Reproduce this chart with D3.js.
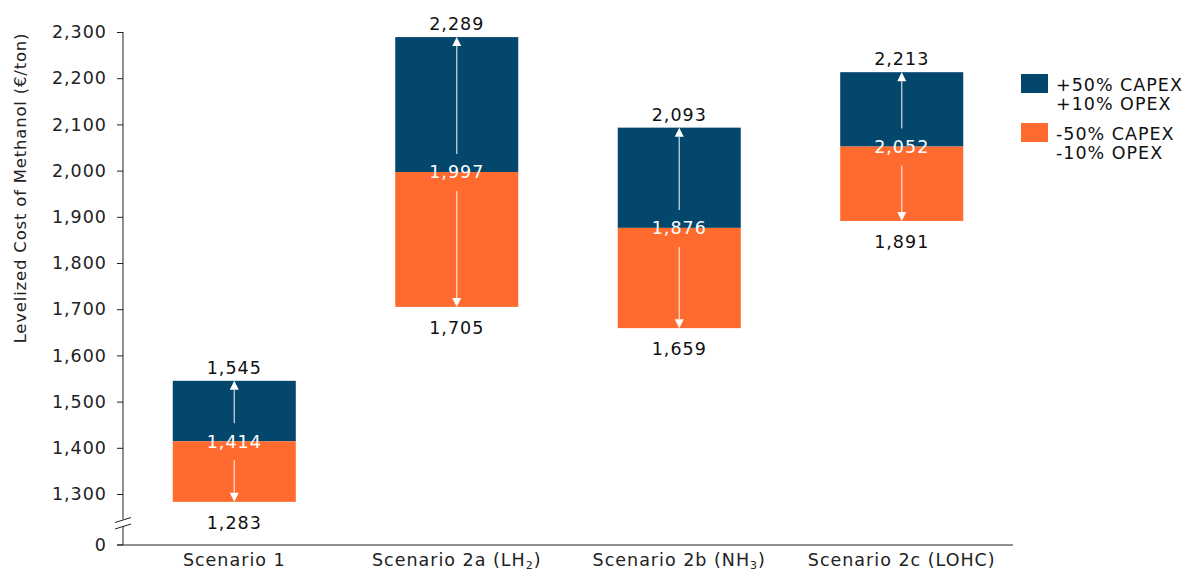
<!DOCTYPE html>
<html><head><meta charset="utf-8">
<script src="https://cdn.jsdelivr.net/npm/d3@7"></script>
<style>
body{margin:0;background:#fff;}
text{font-family:"DejaVu Sans",Verdana,sans-serif;}
</style></head>
<body><svg id="c" width="1192" height="572"></svg>
<script>
const scenarios = ["Scenario 1","Scenario 2a (LH2)","Scenario 2b (NH3)","Scenario 2c (LOHC)"];
const labelParts = [["Scenario 1",""],["Scenario 2a (LH","2",")"],["Scenario 2b (NH","3",")"],["Scenario 2c (LOHC)",""]];
const baseValues = [1414,1997,1876,2052];
const highValues = [1545,2289,2093,2213];
const lowValues  = [1283,1705,1659,1891];
const yTicks = [1300,1400,1500,1600,1700,1800,1900,2000,2100,2200,2300];
const legendLabels = [["+50% CAPEX","+10% OPEX"],["-50% CAPEX","-10% OPEX"]];
const colors = {high:"#03476d", low:"#ff6a2f"};

const svg = d3.select("#c");
const axisColor = "#222";
const fs = 17.5, ls = 1;

const y = d3.scaleLinear().domain([1300,2300]).range([494,32]);
const x = d3.scaleBand().domain(scenarios).range([123,1013]).paddingInner(0.447).paddingOuter(0.2236);
const yZero = 545;

// y axis ticks
const gy = svg.append("g").attr("transform","translate(123,0)")
  .call(d3.axisLeft(y).tickValues(yTicks).tickFormat(d3.format(",")).tickSize(6).tickPadding(10));
gy.select(".domain").remove();
gy.selectAll(".tick line").attr("stroke",axisColor);
gy.selectAll(".tick text").attr("fill",axisColor).style("font-size",fs+"px").style("letter-spacing",ls+"px").style("font-family","DejaVu Sans");

// zero tick
svg.append("line").attr("x1",117).attr("x2",123).attr("y1",yZero).attr("y2",yZero).attr("stroke",axisColor);
svg.append("text").attr("x",106).attr("y",yZero).attr("dy","0.32em").attr("text-anchor","end")
  .attr("fill",axisColor).style("font-size",fs+"px").text("0");

// axis line with break
svg.append("line").attr("x1",123).attr("x2",123).attr("y1",y(2300)).attr("y2",519).attr("stroke",axisColor);
svg.append("line").attr("x1",123).attr("x2",123).attr("y1",526).attr("y2",yZero).attr("stroke",axisColor);
svg.append("line").attr("x1",115).attr("y1",522.5).attr("x2",131).attr("y2",517.5).attr("stroke",axisColor);
svg.append("line").attr("x1",115).attr("y1",529).attr("x2",131).attr("y2",524).attr("stroke",axisColor);
// x axis line
svg.append("line").attr("x1",117).attr("x2",1013).attr("y1",yZero).attr("y2",yZero).attr("stroke",axisColor);

// y title
svg.append("text").attr("transform","translate(26,188) rotate(-90)").attr("text-anchor","middle")
  .attr("fill",axisColor).style("font-size","16.5px").style("letter-spacing","0.8px").text("Levelized Cost of Methanol (€/ton)");

const bw = x.bandwidth();
const g = svg.append("g");
scenarios.forEach((s,i)=>{
  const x0 = x(s), cx = x0+bw/2;
  g.append("rect").attr("x",x0).attr("width",bw).attr("y",y(highValues[i])).attr("height",y(baseValues[i])-y(highValues[i])).attr("fill",colors.high);
  g.append("rect").attr("x",x0).attr("width",bw).attr("y",y(baseValues[i])).attr("height",y(lowValues[i])-y(baseValues[i])).attr("fill",colors.low);
  const yb = y(baseValues[i]), yh = y(highValues[i]), yl = y(lowValues[i]);
  const ah = 9, aw = 4.5;
  g.append("line").attr("x1",cx).attr("x2",cx).attr("y1",yb-18).attr("y2",yh+ah).attr("stroke","rgba(255,255,255,0.75)").attr("stroke-width",1.3);
  g.append("path").attr("d",`M${cx},${yh}L${cx-aw},${yh+ah}L${cx+aw},${yh+ah}Z`).attr("fill","#fff");
  g.append("line").attr("x1",cx).attr("x2",cx).attr("y1",yb+19).attr("y2",yl-ah).attr("stroke","rgba(255,255,255,0.75)").attr("stroke-width",1.3);
  g.append("path").attr("d",`M${cx},${yl}L${cx-aw},${yl-ah}L${cx+aw},${yl-ah}Z`).attr("fill","#fff");
  const fmt = d3.format(",");
  g.append("text").attr("x",cx).attr("y",yh-7).attr("text-anchor","middle").attr("fill","#111").style("font-size",fs+"px").style("letter-spacing",ls+"px").text(fmt(highValues[i]));
  g.append("text").attr("x",cx).attr("y",yb).attr("dy","0.36em").attr("text-anchor","middle").attr("fill","#fff").style("font-size",fs+"px").style("letter-spacing",ls+"px").text(fmt(baseValues[i]));
  g.append("text").attr("x",cx).attr("y",yl+27).attr("text-anchor","middle").attr("fill","#111").style("font-size",fs+"px").style("letter-spacing",ls+"px").text(fmt(lowValues[i]));
  const t = g.append("text").attr("x",cx).attr("y",566).attr("text-anchor","middle").attr("fill",axisColor).style("font-size",fs+"px").style("letter-spacing",ls+"px");
  const p = labelParts[i];
  t.append("tspan").text(p[0]);
  if (p[1]) {
    t.append("tspan").attr("dy",3).style("font-size","11px").text(p[1]);
    t.append("tspan").attr("dy",-3).text(p[2]);
  }
});

// legend
const lg = svg.append("g");
[colors.high, colors.low].forEach((c,i)=>{
  const y0 = 74 + i*49;
  lg.append("rect").attr("x",1021).attr("y",y0).attr("width",27).attr("height",19).attr("fill",c);
  legendLabels[i].forEach((l,j)=>{
    lg.append("text").attr("x",1056).attr("y",y0+17+j*19).attr("fill","#111").style("font-size",fs+"px").style("letter-spacing",ls+"px").text(l);
  });
});
</script></body></html>
